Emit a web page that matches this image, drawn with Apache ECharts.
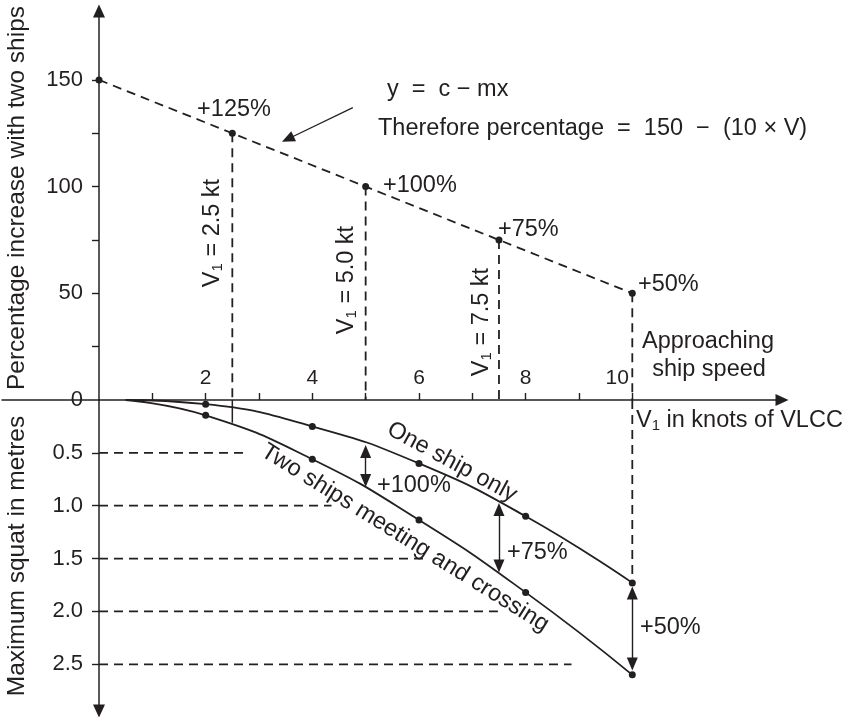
<!DOCTYPE html>
<html>
<head>
<meta charset="utf-8">
<script src="https://cdn.jsdelivr.net/npm/echarts@6/dist/echarts.min.js"></script>
<style>
html, body { margin: 0; background: #fff; }
#main { width: 860px; height: 717px; }
</style>
</head>
<body>
<div id="main"></div>
<script>
// percentage increase in squat when two ships meet, against VLCC speed (knots)
var speeds = [0, 2.5, 5, 7.5, 10];
var pctIncrease = [150, 125, 100, 75, 50];

// maximum squat (m)
var curveSpeeds = [0.5, 2, 4, 6, 8, 10];
var squatOne = [0, 0.04, 0.25, 0.6, 1.1, 1.73];
var squatTwo = [0, 0.145, 0.56, 1.135, 1.82, 2.6];
var twoShipsAt25 = 0.215;

// ticks and labels
var speedTicks = [1, 2, 3, 4, 5, 6, 7, 8, 9, 10];
var speedLabels = [2, 4, 6, 8, 10];
var pctTicks = [25, 50, 75, 100, 125, 150];
var pctLabels = [50, 100, 150];
var squatTicks = [0.5, 1, 1.5, 2, 2.5];
var squatLabels = [0, 0.5, 1, 1.5, 2, 2.5];

// dashed reading lines at each squat tick stop at these speeds
var guideEnds = [2.7, 4.36, 6.15, 7.48, 8.86];

// double arrows between the curves: [speed, from, to]
var gapArrows = [[5, 0.487, 0.762], [7.5, 1.036, 1.57], [10, 1.826, 2.498]];

var INK = '#231f20';
var FONT = '"Liberation Sans", Arial, Helvetica, sans-serif';
var dash = { color: INK, width: 1.8, type: [9, 6] };

var chart = echarts.init(document.getElementById('main'));

var series = [];

// drops from the percentage line down to the speed axis
for (var i = 1; i < speeds.length; i++) {
    series.push({
        type: 'line', xAxisIndex: 0, yAxisIndex: 0, symbol: 'none', silent: true,
        data: [[speeds[i], pctIncrease[i]], [speeds[i], 0]],
        lineStyle: dash
    });
}

series.push({
    type: 'line', xAxisIndex: 0, yAxisIndex: 0, z: 5, clip: false,
    data: speeds.map(function (v, k) { return [v, pctIncrease[k]]; }),
    symbol: 'circle', symbolSize: 7,
    itemStyle: { color: INK },
    lineStyle: dash
});

// pointer from the formula to the line
series.push({
    type: 'line', xAxisIndex: 0, yAxisIndex: 0, data: [],
    markLine: {
        silent: true, animation: false,
        symbol: ['none', 'triangle'], symbolSize: [11, 13],
        label: { show: false },
        lineStyle: { color: INK, width: 1.2, type: 'solid' },
        data: [[{ coord: [4.76, 137] }, { coord: [3.54, 122.3] }]]
    }
});

// lower part
for (var j = 0; j < squatTicks.length; j++) {
    series.push({
        type: 'line', xAxisIndex: 1, yAxisIndex: 1, symbol: 'none', silent: true,
        data: [[0, squatTicks[j]], [guideEnds[j], squatTicks[j]]],
        lineStyle: dash
    });
}

series.push({
    type: 'line', xAxisIndex: 1, yAxisIndex: 1, symbol: 'none', silent: true,
    data: [[10, 0], [10, squatOne[squatOne.length - 1]]],
    lineStyle: dash
});
series.push({
    type: 'line', xAxisIndex: 1, yAxisIndex: 1, symbol: 'none', silent: true,
    data: [[2.5, 0], [2.5, twoShipsAt25]],
    lineStyle: { color: INK, width: 1.5 }
});

function curve(vals) {
    return curveSpeeds.map(function (v, k) {
        var d = { value: [v, vals[k]] };
        if (k === 0) d.symbol = 'none';
        return d;
    });
}

series.push({
    type: 'line', xAxisIndex: 1, yAxisIndex: 1, z: 5,
    smooth: 0.5,
    data: curve(squatOne), symbol: 'circle', symbolSize: 7,
    itemStyle: { color: INK }, lineStyle: { color: INK, width: 1.8 }
});
series.push({
    type: 'line', xAxisIndex: 1, yAxisIndex: 1, z: 5,
    smooth: 0.5,
    data: curve(squatTwo), symbol: 'circle', symbolSize: 7,
    itemStyle: { color: INK }, lineStyle: { color: INK, width: 1.8 }
});

series.push({
    type: 'line', xAxisIndex: 1, yAxisIndex: 1, data: [],
    markLine: {
        silent: true, animation: false,
        symbol: ['triangle', 'triangle'], symbolSize: [11, 13],
        label: { show: false },
        lineStyle: { color: INK, width: 1.4, type: 'solid' },
        data: gapArrows.map(function (a) {
            return [{ coord: [a[0], a[1]] }, { coord: [a[0], a[2]] }];
        })
    }
});

function txt(str, x, y, opt) {
    opt = opt || {};
    return {
        type: 'text', x: x, y: y, rotation: opt.rot || 0, silent: true,
        style: {
            text: str, fill: INK, font: (opt.size || 23.5) + 'px ' + FONT,
            align: opt.align || 'left', verticalAlign: 'middle',
            rich: opt.rich
        }
    };
}
var subRich = {
    s: { fontSize: 15, fontFamily: FONT, fill: INK, color: INK, verticalAlign: 'bottom', padding: [10, 0, 0, 0] }
};
function deg(d) { return d * Math.PI / 180; }

var graphics = [
    txt('Percentage increase with two ships', 17, 198, { rot: deg(90), align: 'center', size: 24.5 }),
    txt('Maximum squat in metres', 17, 556, { rot: deg(90), align: 'center', size: 24.5 }),
    txt('y  =  c \u2212 mx', 387, 90),
    txt('Therefore percentage  =  150  \u2212  (10 \u00d7 V)', 378, 129),
    txt('+125%', 234, 110, { align: 'center' }),
    txt('+100%', 383, 186),
    txt('+75%', 498, 230),
    txt('+50%', 638, 285),
    txt('V{s|1} = 2.5 kt', 213, 233, { rot: deg(90), align: 'center', rich: subRich }),
    txt('V{s|1} = 5.0 kt', 347, 280, { rot: deg(90), align: 'center', rich: subRich }),
    txt('V{s|1} = 7.5 kt', 482, 322, { rot: deg(90), align: 'center', rich: subRich }),
    txt('Approaching', 708, 342, { align: 'center' }),
    txt('ship speed', 709, 370, { align: 'center' }),
    txt('V{s|1} in knots of VLCC', 636, 421, { rich: subRich }),
    txt('One ship only', 452, 462, { rot: deg(-28.5), align: 'center' }),
    txt('Two ships meeting and crossing', 405, 538, { rot: deg(-32), align: 'center' }),
    txt('+100%', 377, 486),
    txt('+75%', 507, 553),
    txt('+50%', 640, 628)
];

var axisText = { color: INK, fontSize: 22, fontFamily: FONT };
var xMax = 12.807;

chart.setOption({
    animation: false,
    backgroundColor: '#fff',
    grid: [
        { left: 99, right: 78, top: 11, height: 389, containLabel: false, outerBoundsMode: 'none' },
        { left: 99, right: 78, top: 400, height: 311, containLabel: false, outerBoundsMode: 'none' },
        // short run of the speed axis to the left of the vertical axis
        { left: 2, width: 97, top: 11, height: 389, containLabel: false, outerBoundsMode: 'none' }
    ],
    xAxis: [{
        gridIndex: 0, type: 'value', min: 0, max: xMax,
        splitLine: { show: false },
        axisLine: { onZero: false, lineStyle: { color: INK, width: 1.5 },
            symbol: ['none', 'triangle'], symbolSize: [12, 13] },
        axisTick: { inside: true, length: 7, customValues: speedTicks, lineStyle: { color: INK, width: 1.4 } },
        axisLabel: {
            inside: true, margin: 11, customValues: speedLabels,
            color: INK, fontSize: 21, fontFamily: FONT,
            formatter: function (v) { return v === 10 ? '{t|10}' : String(v); },
            rich: { t: { color: INK, fontSize: 21, fontFamily: FONT, padding: [0, 30, 0, 0] } }
        }
    }, {
        gridIndex: 1, type: 'value', min: 0, max: xMax, show: false
    }, {
        gridIndex: 2, type: 'value', min: 0, max: 1,
        splitLine: { show: false }, axisTick: { show: false }, axisLabel: { show: false },
        axisLine: { onZero: false, lineStyle: { color: INK, width: 1.5 } }
    }],
    yAxis: [{
        gridIndex: 0, type: 'value', min: 0, max: 182.3,
        splitLine: { show: false },
        axisLine: { onZero: false, lineStyle: { color: INK, width: 1.5 },
            symbol: ['none', 'triangle'], symbolSize: [12, 13] },
        axisTick: { length: 7, customValues: pctTicks, lineStyle: { color: INK, width: 1.4 } },
        axisLabel: Object.assign({ margin: 16, customValues: pctLabels }, axisText)
    }, {
        gridIndex: 1, type: 'value', min: 0, max: 2.942, inverse: true,
        splitLine: { show: false },
        axisLine: { onZero: false, lineStyle: { color: INK, width: 1.5 },
            symbol: ['triangle', 'none'], symbolSize: [12, 13] },
        axisTick: { length: 7, customValues: squatTicks, lineStyle: { color: INK, width: 1.4 } },
        axisLabel: Object.assign({
            margin: 16, customValues: squatLabels,
            formatter: function (v) { return v === 0 ? '0' : v.toFixed(1); }
        }, axisText)
    }, {
        gridIndex: 2, type: 'value', min: 0, max: 1, show: false
    }],
    series: series,
    graphic: graphics
});
</script>
</body>
</html>
